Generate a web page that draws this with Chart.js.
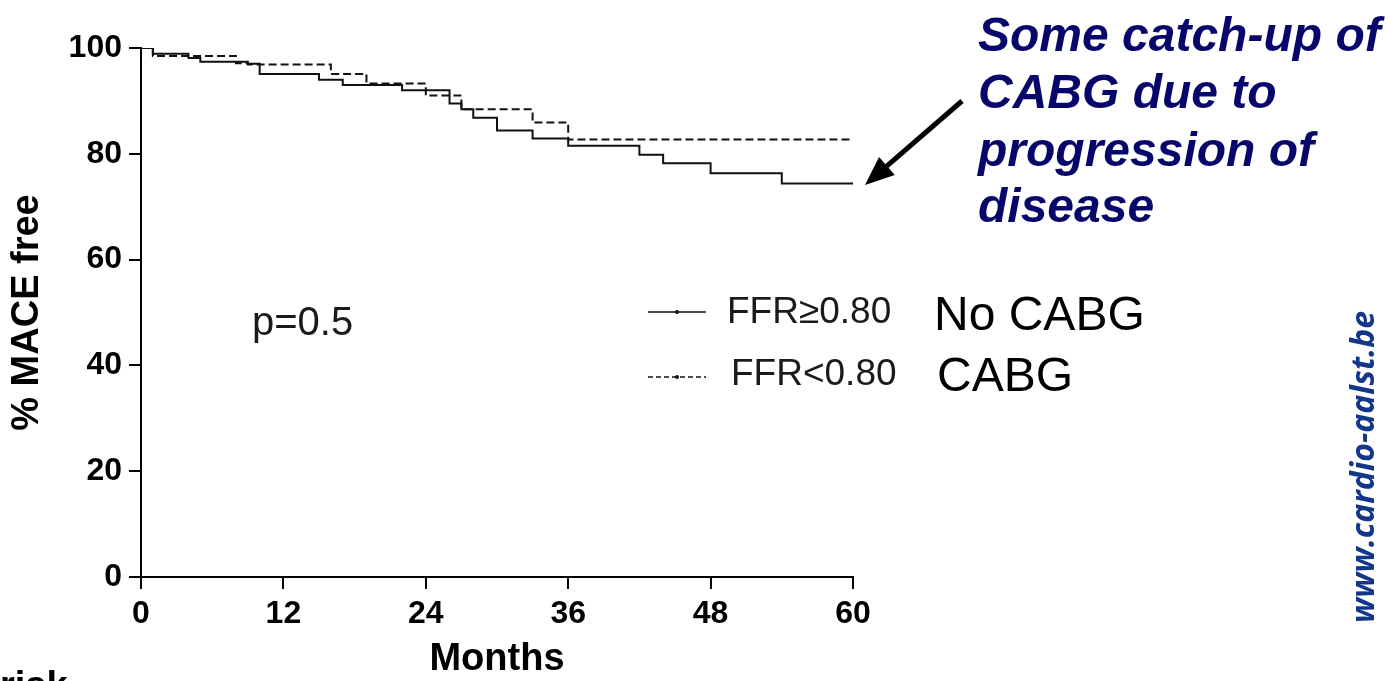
<!DOCTYPE html>
<html>
<head>
<meta charset="utf-8">
<title>MACE free survival</title>
<script src="https://cdn.jsdelivr.net/npm/chart.js@4.4.1/dist/chart.umd.min.js"></script>
<style>
    html, body { margin: 0; padding: 0; background: #ffffff; }
    #wrap { width: 1390px; height: 681px; }
</style>
</head>
<body>
<div id="wrap"><canvas id="kmChart" width="1390" height="681"></canvas></div>
<script>
// Kaplan-Meier steps (month of event, % MACE free after it)
const noCabgMonths = [0, 1, 4, 5, 9, 10, 15, 17, 22, 26, 27, 28, 30, 33, 36, 42, 44, 48, 54, 60];
const noCabgValues = [100, 98.9, 98.1, 97.4, 97.0, 95.1, 94.0, 93.0, 92.0, 89.5, 88.4, 86.8, 84.4, 82.9, 81.5, 79.8, 78.2, 76.3, 74.4, 74.4];

const cabgMonths = [0, 1, 8, 9, 16, 19, 24, 27, 33, 36, 60];
const cabgValues = [100, 98.5, 97.1, 96.9, 95.1, 93.3, 91.0, 88.4, 85.9, 82.7, 82.7];

const xTicks = [0, 12, 24, 36, 48, 60];
const yTicks = [0, 20, 40, 60, 80, 100];

const legendLabels = ['FFR\u22650.80', 'FFR<0.80'];
const groupLabels = ['No CABG', 'CABG'];
const noteLines = ['Some catch-up of', 'CABG due to', 'progression of', 'disease'];

// turn two arrays into {x, y} points
function toPoints(months, values) {
    return months.map((m, i) => ({ x: m, y: values[i] }));
}

// plain left-aligned text
function drawText(ctx, text, x, y, font, color) {
    ctx.save();
    ctx.font = font;
    ctx.fillStyle = color;
    ctx.textAlign = 'left';
    ctx.textBaseline = 'alphabetic';
    ctx.fillText(text, x, y);
    ctx.restore();
}

function legendSample(ctx, y, dash) {
    ctx.save();
    ctx.strokeStyle = '#111';
    ctx.lineWidth = 1.5;
    ctx.setLineDash(dash);
    ctx.beginPath();
    ctx.moveTo(648, y);
    ctx.lineTo(706, y);
    ctx.stroke();
    ctx.setLineDash([]);
    ctx.fillStyle = '#111';
    ctx.beginPath();
    ctx.arc(677, y, 2, 0, Math.PI * 2);
    ctx.fill();
    ctx.restore();
}

const extrasPlugin = {
    id: 'extras',
    afterDraw(chart) {
        const ctx = chart.ctx;
        const sans = '"Liberation Sans", Arial, sans-serif';

        drawText(ctx, 'p=0.5', 252, 335, '40px ' + sans, '#1a1a1a');

        // legend
        legendSample(ctx, 312, []);
        legendSample(ctx, 377, [5, 3]);
        drawText(ctx, legendLabels[0], 727, 323, '37px ' + sans, '#1a1a1a');
        drawText(ctx, legendLabels[1], 731, 385, '37px ' + sans, '#1a1a1a');
        drawText(ctx, groupLabels[0], 934, 330, '48px ' + sans, '#000');
        drawText(ctx, groupLabels[1], 937, 391, '48px ' + sans, '#000');

        // note on the right
        const base = [51, 108, 166, 222];
        noteLines.forEach((line, i) => {
            drawText(ctx, line, 978, base[i], 'italic bold 48px ' + sans, '#07076b');
        });

        // arrow towards the end of the curves
        ctx.save();
        const tail = { x: 962, y: 101 }, tip = { x: 865, y: 185 };
        const ang = Math.atan2(tip.y - tail.y, tip.x - tail.x);
        ctx.strokeStyle = '#000';
        ctx.fillStyle = '#000';
        ctx.lineWidth = 5;
        ctx.beginPath();
        ctx.moveTo(tail.x, tail.y);
        ctx.lineTo(tip.x - 20 * Math.cos(ang), tip.y - 20 * Math.sin(ang));
        ctx.stroke();
        ctx.beginPath();
        ctx.moveTo(tip.x, tip.y);
        ctx.lineTo(tip.x - 29 * Math.cos(ang) + 12 * Math.sin(ang), tip.y - 29 * Math.sin(ang) - 12 * Math.cos(ang));
        ctx.lineTo(tip.x - 29 * Math.cos(ang) - 12 * Math.sin(ang), tip.y - 29 * Math.sin(ang) + 12 * Math.cos(ang));
        ctx.closePath();
        ctx.fill();
        ctx.restore();

        // site name, vertical
        ctx.save();
        ctx.translate(1374, 467);
        ctx.rotate(-Math.PI / 2);
        ctx.font = 'italic bold 32px "Open Sans", sans-serif';
        ctx.fillStyle = '#12378a';
        ctx.textAlign = 'center';
        ctx.fillText('www.cardio-aalst.be', 0, 0, 314);
        ctx.restore();

        // cut off start of the number-at-risk table
        drawText(ctx, 'risk', 0, 698, 'bold 38px ' + sans, '#000');
    }
};

const ctx = document.getElementById('kmChart').getContext('2d');
new Chart(ctx, {
    type: 'line',
    data: {
        datasets: [
            {
                label: legendLabels[0] + ' ' + groupLabels[0],
                data: toPoints(noCabgMonths, noCabgValues),
                borderColor: '#111',
                borderWidth: 2,
                stepped: 'before',
                pointRadius: 0,
                fill: false
            },
            {
                label: legendLabels[1] + ' ' + groupLabels[1],
                data: toPoints(cabgMonths, cabgValues),
                borderColor: '#111',
                borderWidth: 2,
                borderDash: [8, 4],
                stepped: 'before',
                pointRadius: 0,
                fill: false
            }
        ]
    },
    options: {
        responsive: false,
        animation: false,
        layout: { padding: { left: 0, top: 48, right: 537, bottom: 0 } },
        plugins: {
            legend: { display: false },
            tooltip: { enabled: false }
        },
        scales: {
            x: {
                type: 'linear',
                min: 0,
                max: 60,
                afterFit: s => { s.height = 104; },
                afterBuildTicks: s => { s.ticks = xTicks.map(v => ({ value: v })); },
                grid: { drawOnChartArea: false, drawTicks: true, tickLength: 12, color: '#000', lineWidth: 2 },
                border: { display: true, color: '#000', width: 2 },
                ticks: { padding: 6, color: '#000', maxRotation: 0, font: { family: '"Liberation Sans", Arial', size: 32, weight: 'bold' } },
                title: {
                    display: true,
                    text: 'Months',
                    color: '#000',
                    padding: { top: 0, bottom: -1 },
                    font: { family: '"Liberation Sans", Arial', size: 38, weight: 'bold' }
                }
            },
            y: {
                min: 0,
                max: 100,
                afterFit: s => { s.width = 141; },
                afterBuildTicks: s => { s.ticks = yTicks.map(v => ({ value: v })); },
                grid: { drawOnChartArea: false, drawTicks: true, tickLength: 12, color: '#000', lineWidth: 2 },
                border: { display: true, color: '#000', width: 2 },
                ticks: { padding: 7, color: '#000', font: { family: '"Liberation Sans", Arial', size: 32, weight: 'bold' } },
                title: {
                    display: true,
                    text: '% MACE free',
                    color: '#000',
                    padding: { top: 5, bottom: 0 },
                    font: { family: '"Liberation Sans", Arial', size: 38, weight: 'bold' }
                }
            }
        }
    },
    plugins: [extrasPlugin]
});
</script>
</body>
</html>
